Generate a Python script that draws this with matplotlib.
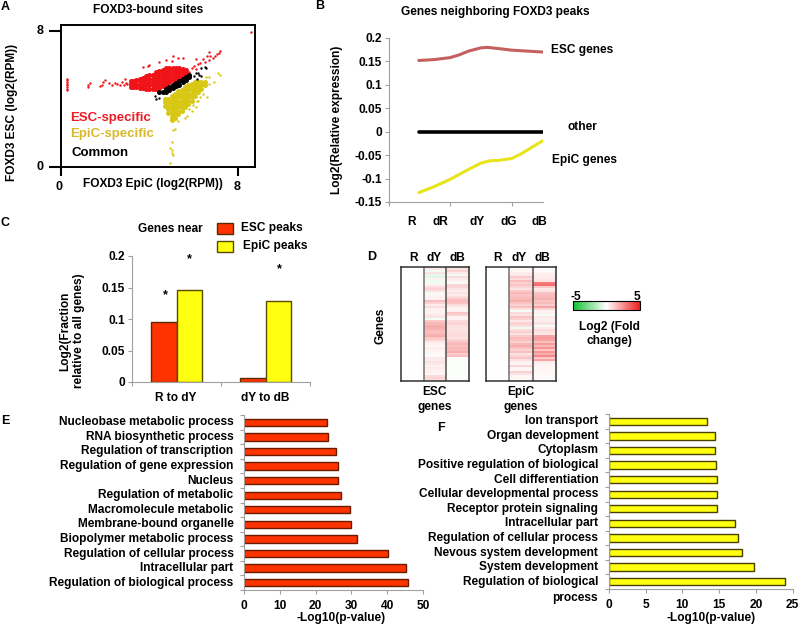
import matplotlib
matplotlib.use('Agg')
import matplotlib.pyplot as plt
from matplotlib.colors import LinearSegmentedColormap, Normalize
from matplotlib.cm import ScalarMappable
from matplotlib.patches import Rectangle

plt.rcParams['font.family'] = ['Liberation Sans', 'DejaVu Sans']
plt.rcParams['font.weight'] = 'bold'
W, H = 800, 625
FS = 8.6

# --- A: scatter, points
esc_sparse = [(0.27, 4.5), (0.27, 4.6), (0.27, 4.7), (0.27, 4.8), (0.27, 4.9), (0.27, 5.0), (0.27, 5.1), (0.27, 5.2),
              (1.2, 4.7), (1.2, 4.8), (1.3, 4.95), (1.75, 4.75), (1.85, 4.85), (1.9, 5.0), (2.0, 5.1), (2.15, 4.95),
              (2.3, 4.85), (2.45, 4.95), (2.55, 4.9), (2.65, 4.85), (2.75, 5.0), (2.85, 4.8), (2.9, 5.2), (2.95, 4.95), (3.0, 4.9),
              (5.8, 5.6), (5.9, 5.8), (6.0, 5.95), (6.1, 5.75), (6.2, 6.05), (6.3, 6.1), (6.4, 6.35), (6.5, 6.2), (6.6, 6.5), (6.7, 6.3),
              (6.75, 6.5), (6.85, 6.4), (6.95, 6.5), (7.05, 6.65), (7.15, 6.7), (7.2, 6.85), (6.7, 6.75), (6.1, 6.35), (5.5, 6.4), (5.3, 6.4),
              (8.6, 7.95), (3.7, 5.9), (3.95, 5.95), (4.0, 6.0), (4.45, 6.15), (4.75, 6.3), (5.0, 6.25), (5.05, 6.55)]
esc_dense = [(3.15, 4.7), (3.15, 4.9), (3.15, 5.05), (3.25, 4.7), (3.25, 4.9), (3.25, 5.05),
             (3.4, 4.7), (3.4, 4.9), (3.4, 5.1), (3.55, 4.65), (3.55, 4.85), (3.55, 5.05), (3.55, 5.2),
             (3.7, 4.65), (3.7, 4.85), (3.7, 5.05), (3.7, 5.25), (3.85, 4.6), (3.85, 4.8), (3.85, 5.0), (3.85, 5.2), (3.85, 5.35),
             (4.0, 4.6), (4.0, 4.8), (4.0, 5.0), (4.0, 5.2), (4.0, 5.4), (4.15, 4.6), (4.15, 4.8), (4.15, 5.0), (4.15, 5.2), (4.15, 5.4),
             (4.3, 4.6), (4.3, 4.8), (4.3, 5.0), (4.3, 5.2), (4.3, 5.4), (4.3, 5.6),
             (4.45, 4.65), (4.45, 4.85), (4.45, 5.05), (4.45, 5.25), (4.45, 5.45), (4.45, 5.65),
             (4.6, 4.75), (4.6, 4.95), (4.6, 5.15), (4.6, 5.35), (4.6, 5.55), (4.6, 5.7),
             (4.75, 4.85), (4.75, 5.05), (4.75, 5.25), (4.75, 5.45), (4.75, 5.65), (4.75, 5.8),
             (4.9, 5.0), (4.9, 5.2), (4.9, 5.4), (4.9, 5.6), (4.9, 5.8), (5.05, 5.1), (5.05, 5.3), (5.05, 5.5), (5.05, 5.7), (5.05, 5.85),
             (5.2, 5.2), (5.2, 5.4), (5.2, 5.6), (5.2, 5.8), (5.35, 5.3), (5.35, 5.5), (5.35, 5.7), (5.35, 5.85),
             (5.5, 5.4), (5.5, 5.6), (5.5, 5.75), (5.65, 5.5), (5.65, 5.7)]
epic_sparse = [(7.1, 5.5), (7.2, 5.4), (6.9, 5.0), (6.6, 4.1), (6.2, 3.9), (6.1, 3.5), (5.9, 3.3), (5.7, 3.0), (5.6, 2.9), (5.3, 2.7),
               (5.15, 2.25), (5.05, 2.15), (5.0, 1.45), (4.95, 1.1), (5.0, 1.0), (5.0, 0.8), (4.95, 0.25), (5.05, 0.7),
               (6.7, 5.3), (6.7, 4.9), (6.55, 5.3), (6.4, 4.3), (6.3, 4.1), (6.15, 3.9), (5.95, 3.65), (5.8, 3.4)]
epic_dense = [(4.7, 3.6), (4.7, 3.8), (4.7, 4.0), (4.85, 3.2), (4.85, 3.4), (4.85, 3.6), (4.85, 3.8), (4.85, 4.0),
              (5.0, 2.75), (5.0, 2.95), (5.0, 3.15), (5.0, 3.35), (5.0, 3.55), (5.0, 3.75), (5.0, 3.95), (5.0, 4.15),
              (5.15, 2.9), (5.15, 3.1), (5.15, 3.3), (5.15, 3.5), (5.15, 3.7), (5.15, 3.9), (5.15, 4.1), (5.15, 4.3),
              (5.3, 3.1), (5.3, 3.3), (5.3, 3.5), (5.3, 3.7), (5.3, 3.9), (5.3, 4.1), (5.3, 4.3), (5.3, 4.45),
              (5.45, 3.3), (5.45, 3.5), (5.45, 3.7), (5.45, 3.9), (5.45, 4.1), (5.45, 4.3), (5.45, 4.5),
              (5.6, 3.5), (5.6, 3.7), (5.6, 3.9), (5.6, 4.1), (5.6, 4.3), (5.6, 4.5), (5.6, 4.7),
              (5.75, 3.7), (5.75, 3.9), (5.75, 4.1), (5.75, 4.3), (5.75, 4.5), (5.75, 4.7), (5.75, 4.85),
              (5.9, 3.9), (5.9, 4.1), (5.9, 4.3), (5.9, 4.5), (5.9, 4.7), (5.9, 4.9),
              (6.05, 4.2), (6.05, 4.4), (6.05, 4.6), (6.05, 4.8), (6.05, 5.0), (6.2, 4.4), (6.2, 4.6), (6.2, 4.8), (6.2, 5.0),
              (6.35, 4.6), (6.35, 4.8), (6.35, 5.0), (6.5, 4.8), (6.5, 5.0)]
common_sparse = [(4.25, 4.15), (4.3, 4.0), (4.45, 4.05), (6.0, 5.35), (6.15, 5.2), (6.25, 5.4), (6.35, 5.35), (6.1, 5.55),
                 (6.35, 5.85), (6.5, 5.9), (6.55, 5.85), (6.2, 5.5)]
common_dense = [(4.45, 4.4), (4.6, 4.4), (4.75, 4.4), (4.75, 4.6), (4.9, 4.5), (4.9, 4.7), (5.05, 4.65), (5.05, 4.85),
                (5.2, 4.75), (5.2, 4.95), (5.35, 4.85), (5.35, 5.05), (5.5, 5.0), (5.5, 5.2), (5.65, 5.1), (5.65, 5.3), (5.8, 5.3), (5.8, 5.4)]

# --- B: expression curves
days = ['R', 'dR', 'dY', 'dG', 'dB']
esc_curve_x = [0, 0.5, 1, 1.3, 1.6, 2, 2.2, 2.5, 3, 3.5, 4]
esc_curve_y = [0.152, 0.154, 0.158, 0.164, 0.172, 0.179, 0.18, 0.178, 0.174, 0.172, 0.17]
other_x = [0, 4]
other_y = [0, 0]
epic_curve_x = [0, 0.5, 1, 1.5, 2, 2.3, 2.6, 3, 3.3, 3.6, 4]
epic_curve_y = [-0.13, -0.117, -0.102, -0.084, -0.067, -0.062, -0.061, -0.057, -0.047, -0.035, -0.019]

# --- C: grouped bars
c_groups = ['R to dY', 'dY to dB']
c_esc = [0.096, 0.007]
c_epic = [0.146, 0.129]

# --- D: heat map rows, top to bottom
esc_dY = [0.3, 0.5, -0.3, 0.6, -0.5, -0.6, 0.3, -0.3, -0.3, 0.3, 0.8, 1.0, 0.6, -0.2, 0.2, 0.3, 0.3, 1.5, 1.0,
          0.4, 0.8, 0.3, 0.3, 0.3, 0.5, 0.6, -0.2, 1.2, 1.6, 1.8, 1.8, 1.6, 1.4, 1.6, 1.8, 1.2, 1.0, 0.5, 0.3,
          0.2, 0.4, 0.3, 0.2, 0.1, 0.1, 0.5, 0.4, 0.6, 0.5, 0.3, 0.4, 0.3, 0.3, 0.2, 0.8, 0.9, 0.7]
esc_dB = [0.4, 0.6, 1.0, 0.5, -0.3, 0.8, 0.4, 0.3, -0.2, 0.9, 0.9, 0.6, 0.4, 0.6, 0.5, 0.8, 1.3, 1.5, 1.3,
          0.8, 0.4, 0.2, 0.3, 1.3, 1.0, 0.3, 0.3, 0.8, 0.9, 0.7, 0.7, 0.6, 0.7, 0.8, 0.8, 0.6, 1.0, 1.3, 1.6,
          1.4, 1.6, 1.5, 1.8, 1.1, 1.4, -0.1, -0.1, -0.1, -0.1, -0.1, -0.1, -0.1, -0.1, -0.1, -0.1, -0.1, -0.1]
epic_dY = [0.2, 0.2, 0.2, 0.4, 0.5, 1.2, 0.8, 1.5, 1.0, 1.3, 0.9, 0.6, 1.2, 1.6, 1.3, 1.4, 1.6, 1.8, 1.3,
           1.0, 1.4, 0.6, -0.2, 0.8, 0.6, 1.3, 1.0, 0.5, 1.0, 0.7, -0.3, 0.8, 1.1, 0.6, 1.2, 1.5, 1.4, 1.0, 1.6,
           1.8, 1.4, 1.0, 1.4, 0.6, 0.9, 1.3, 0.7, 0.3, 0.2, 0.9, 0.2, 0.2, 1.0, 0.6, 0.2, 0.2, 0.2]
epic_dB = [0.1, 0.1, 0.1, 0.3, 0.4, 0.4, 0.5, 0.6, 3.0, 3.2, 1.2, 0.5, 0.6, 1.3, 1.5, 1.6, 1.7, 1.3, 1.5,
           1.1, 2.0, 0.9, 0.3, 0.3, -0.2, 0.5, 0.4, 0.4, 0.6, -0.2, 0.5, 0.8, 0.7, 0.5, 2.0, 2.2, 2.0, 1.4, 2.2,
           1.6, 2.4, 1.3, 2.3, 1.8, 2.6, 1.2, 2.0, 0.4, 0.3, 0.2, 0.2, 0.2, 0.2, 0.1, 0.1, 0.1, 0.1]
gene_rows = len(esc_dY)
baseline = [0.0] * gene_rows

# --- E / F: GO terms, top bar first
e_terms = ['Nucleobase metabolic process', 'RNA biosynthetic process', 'Regulation of transcription',
           'Regulation of gene expression', 'Nucleus', 'Regulation of metabolic', 'Macromolecule metabolic',
           'Membrane-bound organelle', 'Biopolymer metabolic process', 'Regulation of cellular process',
           'Intracellular part', 'Regulation of biological process']
e_vals = [23.1, 23.5, 25.8, 26.3, 26.3, 27.2, 29.7, 30.0, 31.7, 40.2, 45.2, 45.9]
f_terms = ['Ion transport', 'Organ development', 'Cytoplasm', 'Positive regulation of biological',
           'Cell differentiation', 'Cellular developmental process', 'Receptor protein signaling',
           'Intracellular part', 'Regulation of cellular process', 'Nevous system development',
           'System development', 'Regulation of biological']
f_vals = [13.3, 14.5, 14.5, 14.6, 14.7, 14.7, 14.7, 17.1, 17.5, 18.1, 19.8, 23.9]

fig = plt.figure(figsize=(W / 100, H / 100), dpi=100, facecolor='white')


def px_axes(left, top, right, bottom):
    return fig.add_axes([left / W, 1 - bottom / H, (right - left) / W, (bottom - top) / H])


def label(x, y, s, ha='center', size=FS, **kw):
    fig.text(x / W, 1 - y / H, s, ha=ha, va='center', fontsize=size, fontweight='bold', **kw)


def light_axes(ax):
    for side in ('top', 'right'):
        ax.spines[side].set_visible(False)
    for side in ('left', 'bottom'):
        ax.spines[side].set_color('#a0a0a0')
    ax.tick_params(color='#a0a0a0', length=3, width=0.8, labelsize=FS, pad=2)


for x, y, s in [(5, 7, 'A'), (320, 6, 'B'), (5, 223, 'C'), (372, 257, 'D'), (5, 421, 'E'), (441, 428, 'F')]:
    label(x, y, s, size=9)

# ─── A
ax = px_axes(61, 24.5, 255, 167)
layers = [(esc_sparse, esc_dense, '#f01418', 1), (epic_sparse, epic_dense, '#d8c814', 2), (common_sparse, common_dense, '#000000', 3)]
for sparse, dense, col, z in layers:
    ax.scatter([p[0] for p in sparse], [p[1] for p in sparse], s=3, c=col, lw=0, zorder=z)
    ax.scatter([p[0] for p in dense], [p[1] for p in dense], s=13, c=col, lw=0, zorder=z)
ax.set_xlim(0, 8.77)
ax.set_ylim(0, 8.38)
ax.set_xticks([0, 8])
ax.set_yticks([0, 8])
ax.set_xticklabels([])
ax.set_yticklabels([])
ax.tick_params(axis='x', length=6.5, width=1.5)
ax.tick_params(axis='y', length=8.5, width=1.5)
for s in ax.spines.values():
    s.set_linewidth(1.4)
label(148, 10, 'FOXD3-bound sites')
label(12, 112, 'FOXD3 ESC (log2(RPM))', rotation=90)
label(153, 184, 'FOXD3 EpiC (log2(RPM))')
label(59, 187, '0', size=9)
label(237, 187, '8', size=9)
label(40, 31, '8', size=9)
label(40, 167, '0', size=9)
label(70, 118, 'ESC-specific', ha='left', size=9.5, color='#ee1c25')
label(70, 134, 'EpiC-specific', ha='left', size=9.5, color='#d9b92a')
label(72, 153, 'Common', ha='left', size=9.5, color='black')

# ─── B
ax = px_axes(389, 38, 543, 202)
ax.plot(esc_curve_x, esc_curve_y, color='#c4605e', lw=2.2, solid_capstyle='round')
ax.plot(other_x, other_y, color='black', lw=2.6, solid_capstyle='round')
ax.plot(epic_curve_x, epic_curve_y, color='#e8e41a', lw=2.2, solid_capstyle='round')
ax.set_xlim(-0.96, 4)
ax.set_ylim(-0.15, 0.2)
ax.set_xticks([-0.96, 1, 3])
ax.set_xticklabels([])
ax.set_yticks([-0.15, -0.1, -0.05, 0, 0.05, 0.1, 0.15, 0.2])
ax.set_yticklabels(['-0.15', '-0.1', '-0.05', '0', '0.05', '0.1', '0.15', '0.2'])
light_axes(ax)
label(495, 12, 'Genes neighboring FOXD3 peaks')
label(337, 120, 'Log2(Relative expression)', rotation=90)
for x, s in zip([411, 440, 477, 509, 539], days):
    label(x, 222, s)
label(551, 50, 'ESC genes', ha='left')
label(568, 127, 'other', ha='left')
label(552, 160, 'EpiC genes', ha='left')

# ─── C
ax = px_axes(132, 256, 310, 382)
bw = 0.29
ax.bar([i - bw / 2 for i in range(2)], c_esc, bw, color='#ff3300', edgecolor='#5a2a00', lw=1)
ax.bar([i + bw / 2 for i in range(2)], c_epic, bw, color='#ffff10', edgecolor='#5a4a00', lw=1)
ax.set_xlim(-0.5, 1.5)
ax.set_ylim(0, 0.2)
ax.set_xticks([-0.5, 0.5, 1.5])
ax.set_xticklabels([])
ax.set_yticks([0, 0.05, 0.1, 0.15, 0.2])
ax.set_yticklabels(['0', '0.05', '0.1', '0.15', '0.2'])
light_axes(ax)
for x, s in zip([176, 265], c_groups):
    label(x, 398, s)
label(65, 331, 'Log2(Fraction', rotation=90)
label(79, 331, 'relative to all genes)', rotation=90)
label(170, 229, 'Genes near')
for y0, col, edge, s, tx in [(223, '#ff3300', '#5a2a00', 'ESC peaks', 241), (241, '#ffff10', '#5a4a00', 'EpiC peaks', 243)]:
    fig.add_artist(Rectangle((217 / W, 1 - (y0 + 11) / H), 16 / W, 11 / H, transform=fig.transFigure,
                             facecolor=col, edgecolor=edge, lw=1))
    label(tx, y0 + 5, s, ha='left')
for x, y in [(189, 259), (165, 295), (279, 269)]:
    label(x, y, '*', size=9)

# ─── D
cmap = LinearSegmentedColormap.from_list('gwr', ['#10c030', '#ffffff', '#ee2020'])
norm = Normalize(-5, 5)
for (l, r), col1, col2 in [((401, 469), esc_dY, esc_dB), ((486, 556), epic_dY, epic_dB)]:
    ax = px_axes(l, 267, r, 381)
    ax.imshow(list(zip(baseline, col1, col2)), cmap=cmap, norm=norm, aspect='auto', interpolation='nearest')
    ax.axvline(0.5, color='#707070', lw=1.1)
    ax.axvline(1.5, color='#505050', lw=1.1)
    ax.set_xticks([])
    ax.set_yticks([])
    for s in ax.spines.values():
        s.set_linewidth(1.1)
        s.set_color('#303030')
for x, s in [(413, 'R'), (434, 'dY'), (457, 'dB'), (497, 'R'), (519, 'dY'), (542, 'dB')]:
    label(x, 258, s)
label(380, 326, 'Genes', rotation=90)
label(435, 392, 'ESC')
label(435, 407, 'genes')
label(521, 392, 'EpiC')
label(521, 407, 'genes')
cax = px_axes(573, 301, 640, 310)
cb = fig.colorbar(ScalarMappable(norm=norm, cmap=cmap), cax=cax, orientation='horizontal')
cb.set_ticks([])
cb.outline.set_linewidth(0.8)
label(576, 297, '-5')
label(637, 297, '5')
label(609, 327, 'Log2 (Fold')
label(609, 341, 'change)')


# ─── E, F
def go_panel(box, terms, vals, color, edge, xmax, xstep, xlabel_x):
    ax = px_axes(*box)
    pos = list(range(len(terms)))
    ax.barh(pos, vals, 0.5, color=color, edgecolor=edge, lw=1)
    ax.set_ylim(len(terms) - 0.5, -0.5)
    ax.set_xlim(0, xmax)
    ax.set_xticks(list(range(0, xmax + 1, xstep)))
    ax.set_yticks([p - 0.5 for p in pos] + [len(terms) - 0.5])
    ax.set_yticklabels([])
    light_axes(ax)
    ax.tick_params(axis='x', pad=4)
    for p, s in zip(pos, terms):
        ax.annotate(s, xy=(0, p), xycoords=('axes fraction', 'data'), xytext=(-7.5, 0),
                    textcoords='offset points', ha='right', va='center', fontsize=FS, fontweight='bold')
    label(xlabel_x, 618, '-Log10(p-value)')


go_panel((244, 415, 423, 590), e_terms, e_vals, '#ff3300', '#6a1a00', 50, 10, 341)
go_panel((608.7, 414, 792.7, 589), f_terms, f_vals, '#ffff10', '#4a4000', 25, 5, 711)
label(598, 598, 'process', ha='right')

fig.savefig('out.png', dpi=100)
